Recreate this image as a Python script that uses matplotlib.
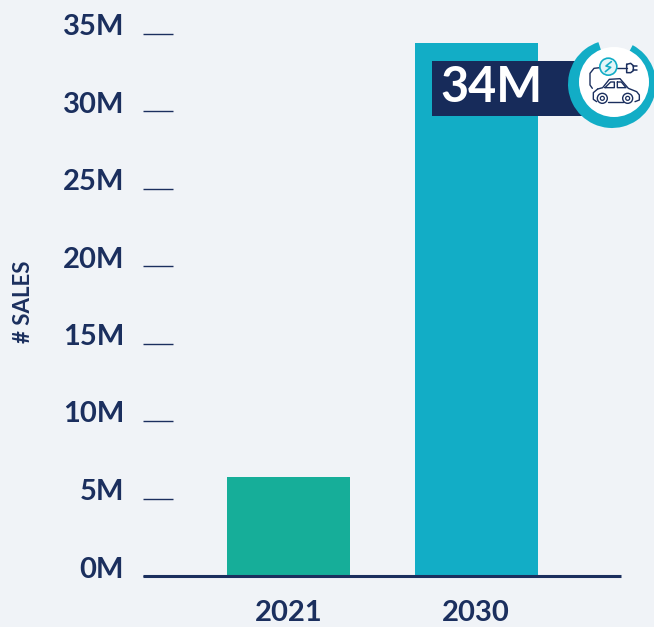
import numpy as np
import matplotlib.pyplot as plt
from matplotlib.patches import Circle, Rectangle, Wedge
from matplotlib.transforms import ScaledTranslation

years = ["2021", "2030"]
sales = [6.4, 34.4]
bar_colors = ["#16ae99", "#12adc6"]
ticks = [0, 5, 10, 15, 20, 25, 30, 35]
tick_labels = ["0M", "5M", "10M", "15M", "20M", "25M", "30M", "35M"]

navy = "#1b2f5e"
bg = "#f0f3f7"

plt.rcParams["font.family"] = ["Lato", "DejaVu Sans"]

W, H = 654, 627
fig = plt.figure(figsize=(W / 100, H / 100), dpi=100, facecolor=bg)
ax = fig.add_axes([143 / W, (H - 576) / H, 478 / W, 576 / H], facecolor="none")

x = np.arange(len(years))
ax.bar(x, sales, width=0.656, color=bar_colors, zorder=1)
ax.set_xlim(-0.776, 1.773)
ax.set_ylim(0, 576 / 15.5)

for side in ["top", "right", "left"]:
    ax.spines[side].set_visible(False)
ax.spines["bottom"].set_color(navy)
ax.spines["bottom"].set_linewidth(2.2)
ax.spines["bottom"].set_capstyle("butt")
ax.spines["bottom"].set_zorder(3)

ax.set_xticks(x, years)
ax.set_yticks(ticks, tick_labels)
ax.tick_params(axis="x", length=0, pad=17.5, labelsize=21, labelcolor=navy)
ax.tick_params(axis="y", direction="in", length=21.6, width=1, color=navy,
               pad=13.5, labelsize=21, labelcolor=navy)
for lab in ax.get_xticklabels() + ax.get_yticklabels():
    lab.set_fontweight("bold")
# labels sit above their tick marks in the original
shift = ScaledTranslation(0, 0.09, fig.dpi_scale_trans)
for lab in ax.get_yticklabels():
    lab.set_transform(lab.get_transform() + shift)

fig.text(24 / W, 1 - 302 / H, "# SALES", rotation=90, ha="center", va="center",
         fontsize=16, fontweight="bold", color=navy)

# overlay in pixel coords for the callout and icon
ov = fig.add_axes([0, 0, 1, 1], facecolor="none")
ov.set_xlim(0, W)
ov.set_ylim(H, 0)
ov.axis("off")

ov.add_patch(Rectangle((432, 61), 165, 55, color="#172b5a", lw=0, zorder=2))
ov.text(491.5, 88, "34M", color="white", fontsize=35, fontweight="bold",
        ha="center", va="center", zorder=3)

# ring, gap at the top (y axis is flipped so angles are mirrored)
ov.add_patch(Wedge((612, 84), 44, -62, 252, width=13, color="#12adc6", lw=0, zorder=4))
ov.add_patch(Circle((614, 82), 35, color="white", lw=0, zorder=4))


def zx(v):
    return 420 + np.array(v) / 3


def zy(v):
    return 20 + np.array(v) / 3


def icon_line(xs, ys, color=navy, lw=1.0):
    ov.plot(zx(xs), zy(ys), color=color, lw=lw, zorder=5, solid_capstyle="round")


# car body
icon_line([530, 520, 520, 533], [245, 238, 218, 207])
icon_line([533, 548, 568, 600, 625, 650, 658, 658, 645],
          [207, 203, 178, 176, 205, 215, 225, 240, 245])
icon_line([563, 608], [245, 245])
icon_line([555, 572, 583, 583, 555], [203, 186, 186, 203, 203])
icon_line([592, 604, 618, 592, 592], [186, 186, 203, 203, 186])
for cx in [547, 623]:
    ov.add_patch(Circle((zx(cx), zy(235)), 5, fc="white", ec=navy, lw=1.0, zorder=6))
    ov.add_patch(Circle((zx(cx), zy(235)), 2, fc="white", ec=navy, lw=0.9, zorder=6))

# cable and plug
icon_line([517, 510, 510, 522, 540], [205, 195, 160, 145, 143])
icon_line([590, 620], [145, 145])
icon_line([620, 620, 632, 640, 640, 632, 620],
          [133, 158, 158, 152, 137, 130, 133], lw=1.1)
icon_line([640, 650], [138, 138], lw=1.1)
icon_line([640, 650], [151, 151], lw=1.1)

# charge badge
ov.add_patch(Circle((zx(565), zy(140)), 8.5, fc="#e2f5f8", ec="#12adc6", lw=1.2, zorder=5))
icon_line([574, 558, 572, 556], [125, 138, 142, 155], color="#12adc6", lw=1.2)

fig.savefig("out.png", dpi=100, facecolor=bg)
